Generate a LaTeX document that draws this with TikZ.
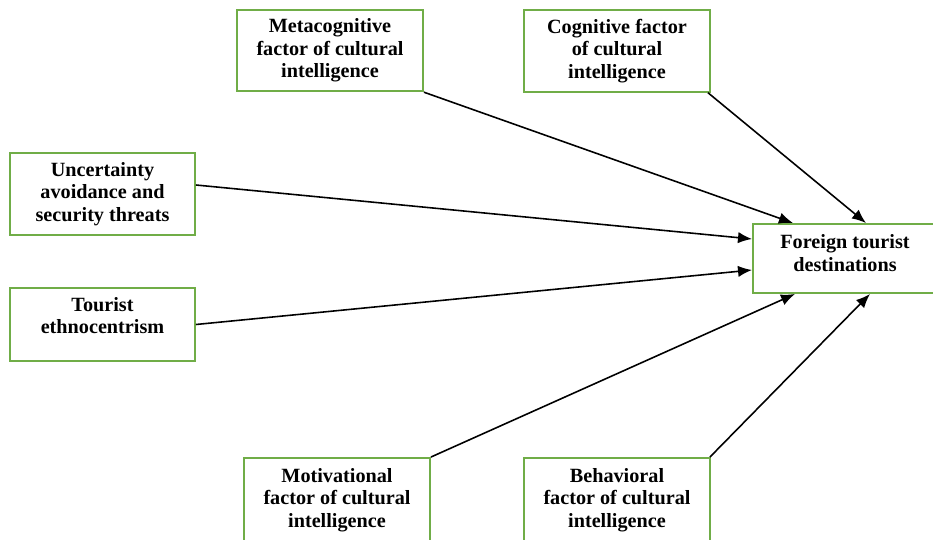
\documentclass[tikz,border=0pt]{standalone}
\usepackage{fontspec}
\setmainfont{Liberation Serif}
\usetikzlibrary{arrows.meta}
\definecolor{boxgreen}{RGB}{112,173,71}

\begin{document}
\begin{tikzpicture}[x=0.02cm, y=-0.02cm,
  factor/.style={draw=boxgreen, line width=1.1pt, align=center, inner sep=0pt,
    minimum width=3.72cm, minimum height=1.63cm,
    font=\bfseries\fontsize{11.5}{12.8}\selectfont},
  link/.style={line width=0.9pt, -{Latex[length=8pt,width=6.5pt]}}]

  \useasboundingbox (0,0) rectangle (933,540);

  % Factor boxes
  \node[factor] (meta) at (330,50.5) {Metacognitive\\factor of cultural\\intelligence};
  \node[factor] (cog) at (617,51) {Cognitive factor\\of cultural\\intelligence};
  \node[factor, minimum width=3.7cm] (unc) at (102.5,194) {Uncertainty\\avoidance and\\security threats};
  \node[factor, minimum width=3.7cm, minimum height=1.46cm, text depth=10pt] (eth) at (102.5,324.5) {Tourist\\ethnocentrism};
  \node[factor, minimum height=1.68cm] (mot) at (337,500) {Motivational\\factor of cultural\\intelligence};
  \node[factor, minimum height=1.68cm] (beh) at (617,500) {Behavioral\\factor of cultural\\intelligence};

  % Outcome box (cut off at the right edge)
  \node[factor, minimum width=3.68cm, minimum height=1.38cm, text depth=6pt] (dest) at (845,258.5) {Foreign tourist\\destinations};

  % Paths
  \draw[link] (meta.south east) -- ([xshift=-1.04cm]dest.north);
  \draw[link] ([xshift=-0.06cm]cog.south east) -- ([xshift=0.42cm]dest.north);
  \draw[link] ([yshift=0.18cm]unc.east) -- ([yshift=0.39cm]dest.west);
  \draw[link] (eth.east) -- ([yshift=-0.23cm]dest.west);
  \draw[link] (mot.north east) -- ([xshift=-1.0cm]dest.south);
  \draw[link] ([xshift=-0.02cm]beh.north east) -- ([xshift=0.5cm]dest.south);

\end{tikzpicture}
\end{document}
